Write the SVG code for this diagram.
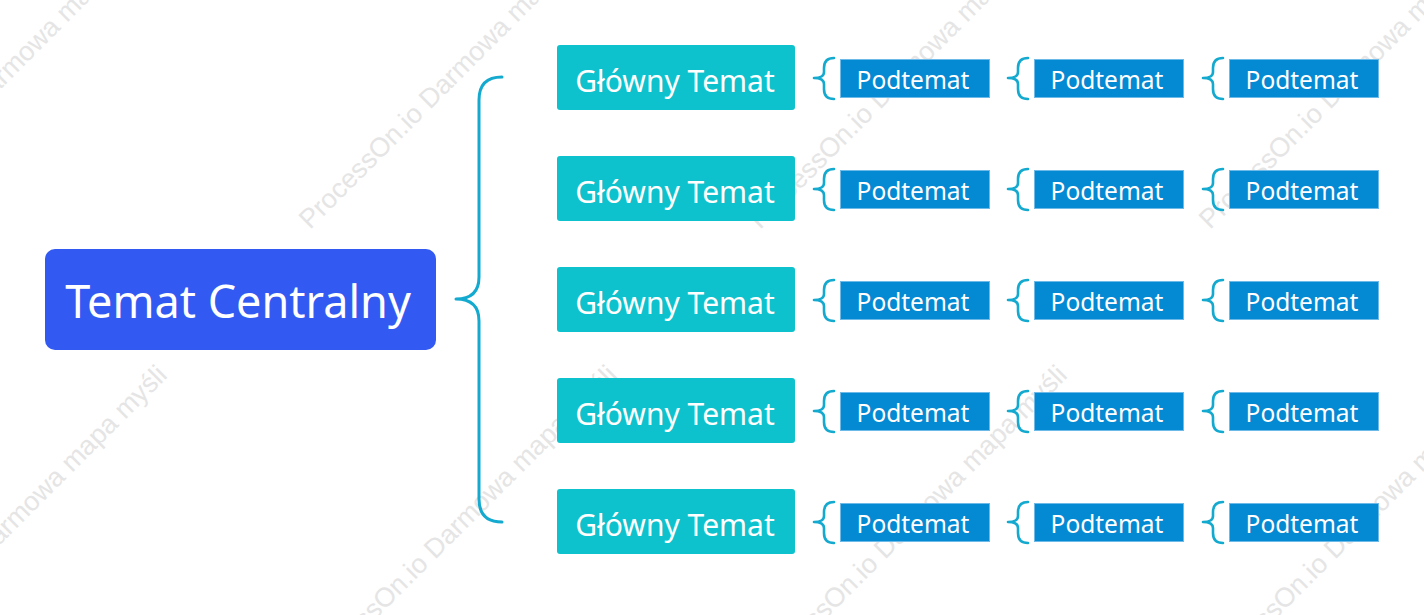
<svg xmlns="http://www.w3.org/2000/svg" width="1424" height="615" viewBox="0 0 1424 615">
<style>
.wm{font-family:"Liberation Sans",Arial,sans-serif;font-size:27px;fill:#e5e5e5}
.central{fill:#325AF3}
.main{fill:#0DC2CC}
.sub{fill:#0489D3;stroke:#6DB9E8;stroke-width:1}
.t{font-family:"Noto Sans","Open Sans",sans-serif;fill:#ffffff;text-anchor:middle}
.tc{font-size:45px}
.tm{font-size:30px}
.ts{font-size:24.5px}
.brace{fill:none;stroke:#14A9CF;stroke-linecap:round;stroke-linejoin:round}
.big{stroke-width:3}
.small{stroke-width:2.6}
</style>
<defs>
<path id="sb" d="M0,-20 Q-10,-20 -10,-10 L-10,-6 Q-10,0 -20,0 Q-10,0 -10,6 L-10,11 Q-10,21 0,21"/>
</defs>
<rect width="1424" height="615" fill="#ffffff"/>
<g id="watermarks">
<text class="wm" transform="translate(-140,230) rotate(-45)">ProcessOn.io Darmowa mapa myśli</text>
<text class="wm" transform="translate(310,230) rotate(-45)">ProcessOn.io Darmowa mapa myśli</text>
<text class="wm" transform="translate(760,230) rotate(-45)">ProcessOn.io Darmowa mapa myśli</text>
<text class="wm" transform="translate(1210,230) rotate(-45)">ProcessOn.io Darmowa mapa myśli</text>
<text class="wm" transform="translate(-135,680) rotate(-45)">ProcessOn.io Darmowa mapa myśli</text>
<text class="wm" transform="translate(315,680) rotate(-45)">ProcessOn.io Darmowa mapa myśli</text>
<text class="wm" transform="translate(765,680) rotate(-45)">ProcessOn.io Darmowa mapa myśli</text>
<text class="wm" transform="translate(1215,680) rotate(-45)">ProcessOn.io Darmowa mapa myśli</text>
</g>
<g id="connectors">
<path class="brace big" d="M502,77 Q479,77 479,100 L479,277 Q479,299 456,299 Q479,299 479,321 L479,499 Q479,522 502,522"/>
<use href="#sb" class="brace small" x="834" y="78"/>
<use href="#sb" class="brace small" x="1028" y="78"/>
<use href="#sb" class="brace small" x="1223" y="78"/>
<use href="#sb" class="brace small" x="834" y="189"/>
<use href="#sb" class="brace small" x="1028" y="189"/>
<use href="#sb" class="brace small" x="1223" y="189"/>
<use href="#sb" class="brace small" x="834" y="300"/>
<use href="#sb" class="brace small" x="1028" y="300"/>
<use href="#sb" class="brace small" x="1223" y="300"/>
<use href="#sb" class="brace small" x="834" y="411"/>
<use href="#sb" class="brace small" x="1028" y="411"/>
<use href="#sb" class="brace small" x="1223" y="411"/>
<use href="#sb" class="brace small" x="834" y="522"/>
<use href="#sb" class="brace small" x="1028" y="522"/>
<use href="#sb" class="brace small" x="1223" y="522"/>
</g>
<g id="central">
<rect class="central" x="45" y="249" width="391" height="101" rx="10"/>
<text class="t tc" x="238" y="318">Temat Centralny</text>
</g>
<g id="main1"><rect class="main" x="557" y="45" width="238" height="65" rx="3"/><text class="t tm" x="675" y="92">Główny Temat</text></g>
<g id="main2"><rect class="main" x="557" y="156" width="238" height="65" rx="3"/><text class="t tm" x="675" y="203">Główny Temat</text></g>
<g id="main3"><rect class="main" x="557" y="267" width="238" height="65" rx="3"/><text class="t tm" x="675" y="314">Główny Temat</text></g>
<g id="main4"><rect class="main" x="557" y="378" width="238" height="65" rx="3"/><text class="t tm" x="675" y="425">Główny Temat</text></g>
<g id="main5"><rect class="main" x="557" y="489" width="238" height="65" rx="3"/><text class="t tm" x="675" y="536">Główny Temat</text></g>
<g id="sub1a"><rect class="sub" x="840.5" y="59.5" width="149" height="38"/><text class="t ts" x="913" y="89">Podtemat</text></g>
<g id="sub1b"><rect class="sub" x="1034.5" y="59.5" width="149" height="38"/><text class="t ts" x="1107" y="89">Podtemat</text></g>
<g id="sub1c"><rect class="sub" x="1229.5" y="59.5" width="149" height="38"/><text class="t ts" x="1302" y="89">Podtemat</text></g>
<g id="sub2a"><rect class="sub" x="840.5" y="170.5" width="149" height="38"/><text class="t ts" x="913" y="200">Podtemat</text></g>
<g id="sub2b"><rect class="sub" x="1034.5" y="170.5" width="149" height="38"/><text class="t ts" x="1107" y="200">Podtemat</text></g>
<g id="sub2c"><rect class="sub" x="1229.5" y="170.5" width="149" height="38"/><text class="t ts" x="1302" y="200">Podtemat</text></g>
<g id="sub3a"><rect class="sub" x="840.5" y="281.5" width="149" height="38"/><text class="t ts" x="913" y="311">Podtemat</text></g>
<g id="sub3b"><rect class="sub" x="1034.5" y="281.5" width="149" height="38"/><text class="t ts" x="1107" y="311">Podtemat</text></g>
<g id="sub3c"><rect class="sub" x="1229.5" y="281.5" width="149" height="38"/><text class="t ts" x="1302" y="311">Podtemat</text></g>
<g id="sub4a"><rect class="sub" x="840.5" y="392.5" width="149" height="38"/><text class="t ts" x="913" y="422">Podtemat</text></g>
<g id="sub4b"><rect class="sub" x="1034.5" y="392.5" width="149" height="38"/><text class="t ts" x="1107" y="422">Podtemat</text></g>
<g id="sub4c"><rect class="sub" x="1229.5" y="392.5" width="149" height="38"/><text class="t ts" x="1302" y="422">Podtemat</text></g>
<g id="sub5a"><rect class="sub" x="840.5" y="503.5" width="149" height="38"/><text class="t ts" x="913" y="533">Podtemat</text></g>
<g id="sub5b"><rect class="sub" x="1034.5" y="503.5" width="149" height="38"/><text class="t ts" x="1107" y="533">Podtemat</text></g>
<g id="sub5c"><rect class="sub" x="1229.5" y="503.5" width="149" height="38"/><text class="t ts" x="1302" y="533">Podtemat</text></g>
</svg>
